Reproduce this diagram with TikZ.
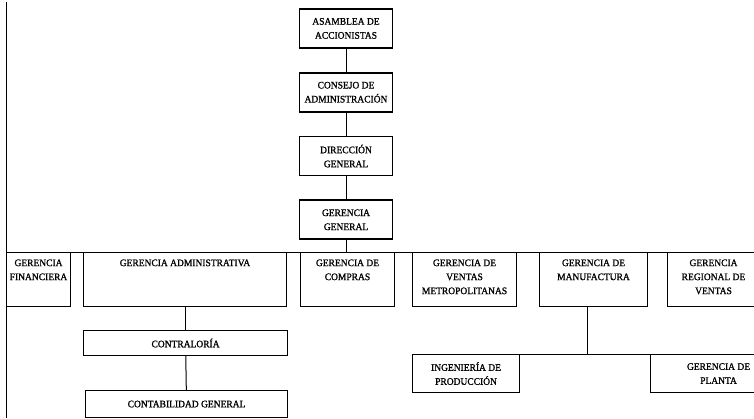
\documentclass[tikz,border=0pt]{standalone}
\usepackage{fontspec}
\setmainfont[FakeStretch=0.95, FakeBold=1.2]{Liberation Serif}
\usetikzlibrary{positioning}
\newcommand{\arriba}[2]{\parbox[t][40pt][t]{#1}{\centering #2}}

\begin{document}
\begin{tikzpicture}[x=1pt, y=-1pt, node distance=23pt,
    every node/.style={font=\fontsize{10}{14}\selectfont},
    topbox/.style={draw, line width=1.8pt, minimum width=93pt, minimum height=39pt, inner xsep=1pt, align=center},
    area/.style={draw, line width=1pt, anchor=north west, minimum height=54pt, inner xsep=2pt, inner ysep=5pt},
    sub/.style={draw, line width=1.1pt, anchor=north west, align=center, inner sep=2pt},
    con/.style={line width=1pt}]
  \useasboundingbox (0,0) rectangle (754,418);
  % columna superior
  \node[topbox, anchor=north] (asamblea) at (346,8) {ASAMBLEA DE\\ACCIONISTAS};
  \node[topbox, below=of asamblea] (consejo) {CONSEJO DE\\ADMINISTRACIÓN};
  \node[topbox, below=of consejo] (direccion) {DIRECCIÓN\\GENERAL};
  \node[topbox, below=of direccion] (gergral) {GERENCIA\\GENERAL};
  \draw[con] (asamblea)--(consejo); \draw[con] (consejo)--(direccion); \draw[con] (direccion)--(gergral);
  % gerencias
  \node[area, minimum width=64pt] (financiera) at (6,252) {\arriba{58pt}{GERENCIA\\FINANCIERA}};
  \node[area, minimum width=203pt] (admin) at (83,252) {\arriba{197pt}{GERENCIA ADMINISTRATIVA}};
  \node[area, minimum width=94pt] (compras) at (300,252) {\arriba{88pt}{GERENCIA DE\\COMPRAS}};
  \node[area, minimum width=104pt] (ventas) at (412,252) {\arriba{98pt}{GERENCIA DE\\VENTAS\\METROPOLITANAS}};
  \node[area, minimum width=108pt] (manuf) at (539,252) {\arriba{102pt}{GERENCIA DE\\MANUFACTURA}};
  \node[area, minimum width=92pt] (regional) at (667,252) {\arriba{86pt}{GERENCIA\\REGIONAL DE\\VENTAS}};
  \coordinate (arriba) at (6,2);
  \coordinate (abajo) at (6,418);
  \coordinate (busfin) at (754,252);
  \draw[con] (arriba)--(abajo);
  \draw[con] (financiera.north west)--(busfin);
  \draw[con] (gergral)--(gergral |- busfin);
  % dependencias
  \node[sub, minimum width=204pt, minimum height=25pt] (contraloria) at (83,330) {CONTRALORÍA};
  \node[sub, minimum width=202pt, minimum height=27pt] (contab) at (85,390) {CONTABILIDAD GENERAL};
  \draw[con] (admin.south -| contraloria)--(contraloria); \draw[con] (contraloria)--(contab);
  \node[sub, minimum width=107pt, minimum height=38pt] (ingenieria) at (412,354) {INGENIERÍA DE\\PRODUCCIÓN};
  \node[sub, minimum width=136pt, minimum height=38pt] (planta) at (650,354) {GERENCIA DE\\PLANTA};
  \coordinate (manufin) at (754,354);
  \draw[con] (manuf.south) ++(-6pt,0) coordinate (manubaja) -- (manubaja |- manufin);
  \draw[con] (ingenieria.north west)--(manufin);
\end{tikzpicture}
\end{document}
